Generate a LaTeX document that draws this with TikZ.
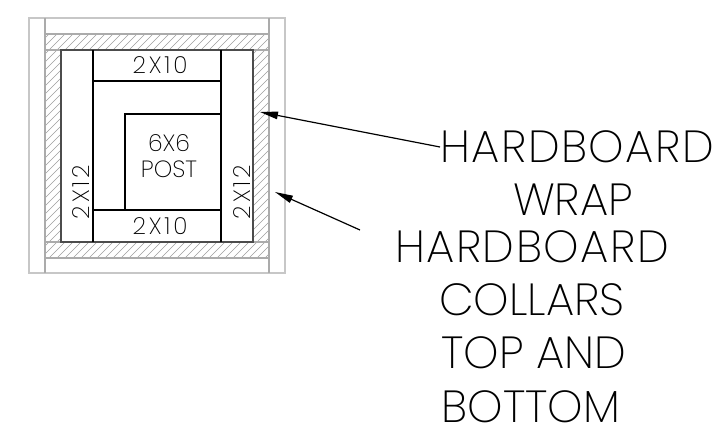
\documentclass[tikz,border=0pt]{standalone}
\usepackage{fontspec}
\newfontfamily\cadfont{Poppins ExtraLight}
\newfontfamily\cadwide[LetterSpace=12]{Poppins ExtraLight}
\newfontfamily\cadbigwide[LetterSpace=3.3]{Poppins ExtraLight}
\usetikzlibrary{arrows.meta}
\tikzset{
  frameline/.style={draw=black!22,line width=1.5pt},
  bandline/.style={draw=black!33,line width=1.5pt},
  innerline/.style={draw=black!70,line width=2pt},
  timber/.style={draw=black,line width=2pt},
  hatchline/.style={draw=black!38,line width=0.6pt},
  small/.style={inner sep=0pt,text=black,font=\cadfont\fontsize{23.5}{24}\selectfont},
  smallwide/.style={inner sep=0pt,text=black,font=\cadwide\fontsize{23.5}{24}\selectfont},
  big/.style={inner sep=0pt,text=black,font=\cadfont\fontsize{45}{45}\selectfont},
  bigwide/.style={inner sep=0pt,text=black,font=\cadbigwide\fontsize{45}{45}\selectfont},
  leader/.style={draw=black,line width=1.2pt,-{Triangle[length=18pt,width=7.5pt]}}
}
\begin{document}
\begin{tikzpicture}[x=1pt,y=-1pt]
\useasboundingbox (0,0) rectangle (715,433);
\fill[white] (0,0) rectangle (715,433);
% hatch
\begin{scope}[even odd rule]
\clip (45,34) rectangle (269,258) (61,50) rectangle (253,242);
\foreach \k in {-260,-252,...,260} { \draw[hatchline] (45+\k-20,258+20) -- (45+\k+240,258-240); }
\end{scope}
% frame
\draw[frameline] (29,18) rectangle (285,273);
\draw[bandline] (45,18) -- (45,273);
\draw[bandline] (269,18) -- (269,273);
\draw[bandline] (45,34) -- (269,34);
\draw[bandline] (45,258) -- (269,258);
\draw[bandline] (45,50) -- (269,50);
\draw[bandline] (45,242) -- (269,242);
% boards
\draw[innerline] (61,242) -- (61,50) -- (253,50) -- (253,242) -- cycle;
\draw[timber] (93,50) -- (93,242);
\draw[timber] (221,50) -- (221,242);
\draw[timber] (93,81) -- (221,81);
\draw[timber] (93,210) -- (221,210);
\draw[timber] (125,210) -- (125,114) -- (221,114);
% small labels
\node[smallwide] (t1) at (160,65) {2X10};
\node[smallwide] (t2) at (160,226) {2X10};
\node[small] (t3) at (169,143) {6X6};
\node[small] (t4) at (169,169) {POST};
\node[smallwide,rotate=90] (t5) at (81,192) {2X12};
\node[smallwide,rotate=90] (t6) at (242,192) {2X12};
% big labels
\node[bigwide,anchor=west] (wa) at (440,147) {HARDBOARD};
\node[big] (wb) at (573,200) {WRAP};
\node[bigwide] (ca) at (532,247) {HARDBOARD};
\node[big] (cb) at (532,300) {COLLARS};
\node[big] (cc) at (534,353) {TOP AND};
\node[big] (cd) at (531,407) {BOTTOM};
% leaders
\coordinate (tipa) at (260,112);
\coordinate (tipb) at (275,192);
\coordinate (startb) at (360,230);
\draw[leader] (wa.west) -- (tipa);
\draw[leader] (startb) -- (tipb);
\end{tikzpicture}
\end{document}
